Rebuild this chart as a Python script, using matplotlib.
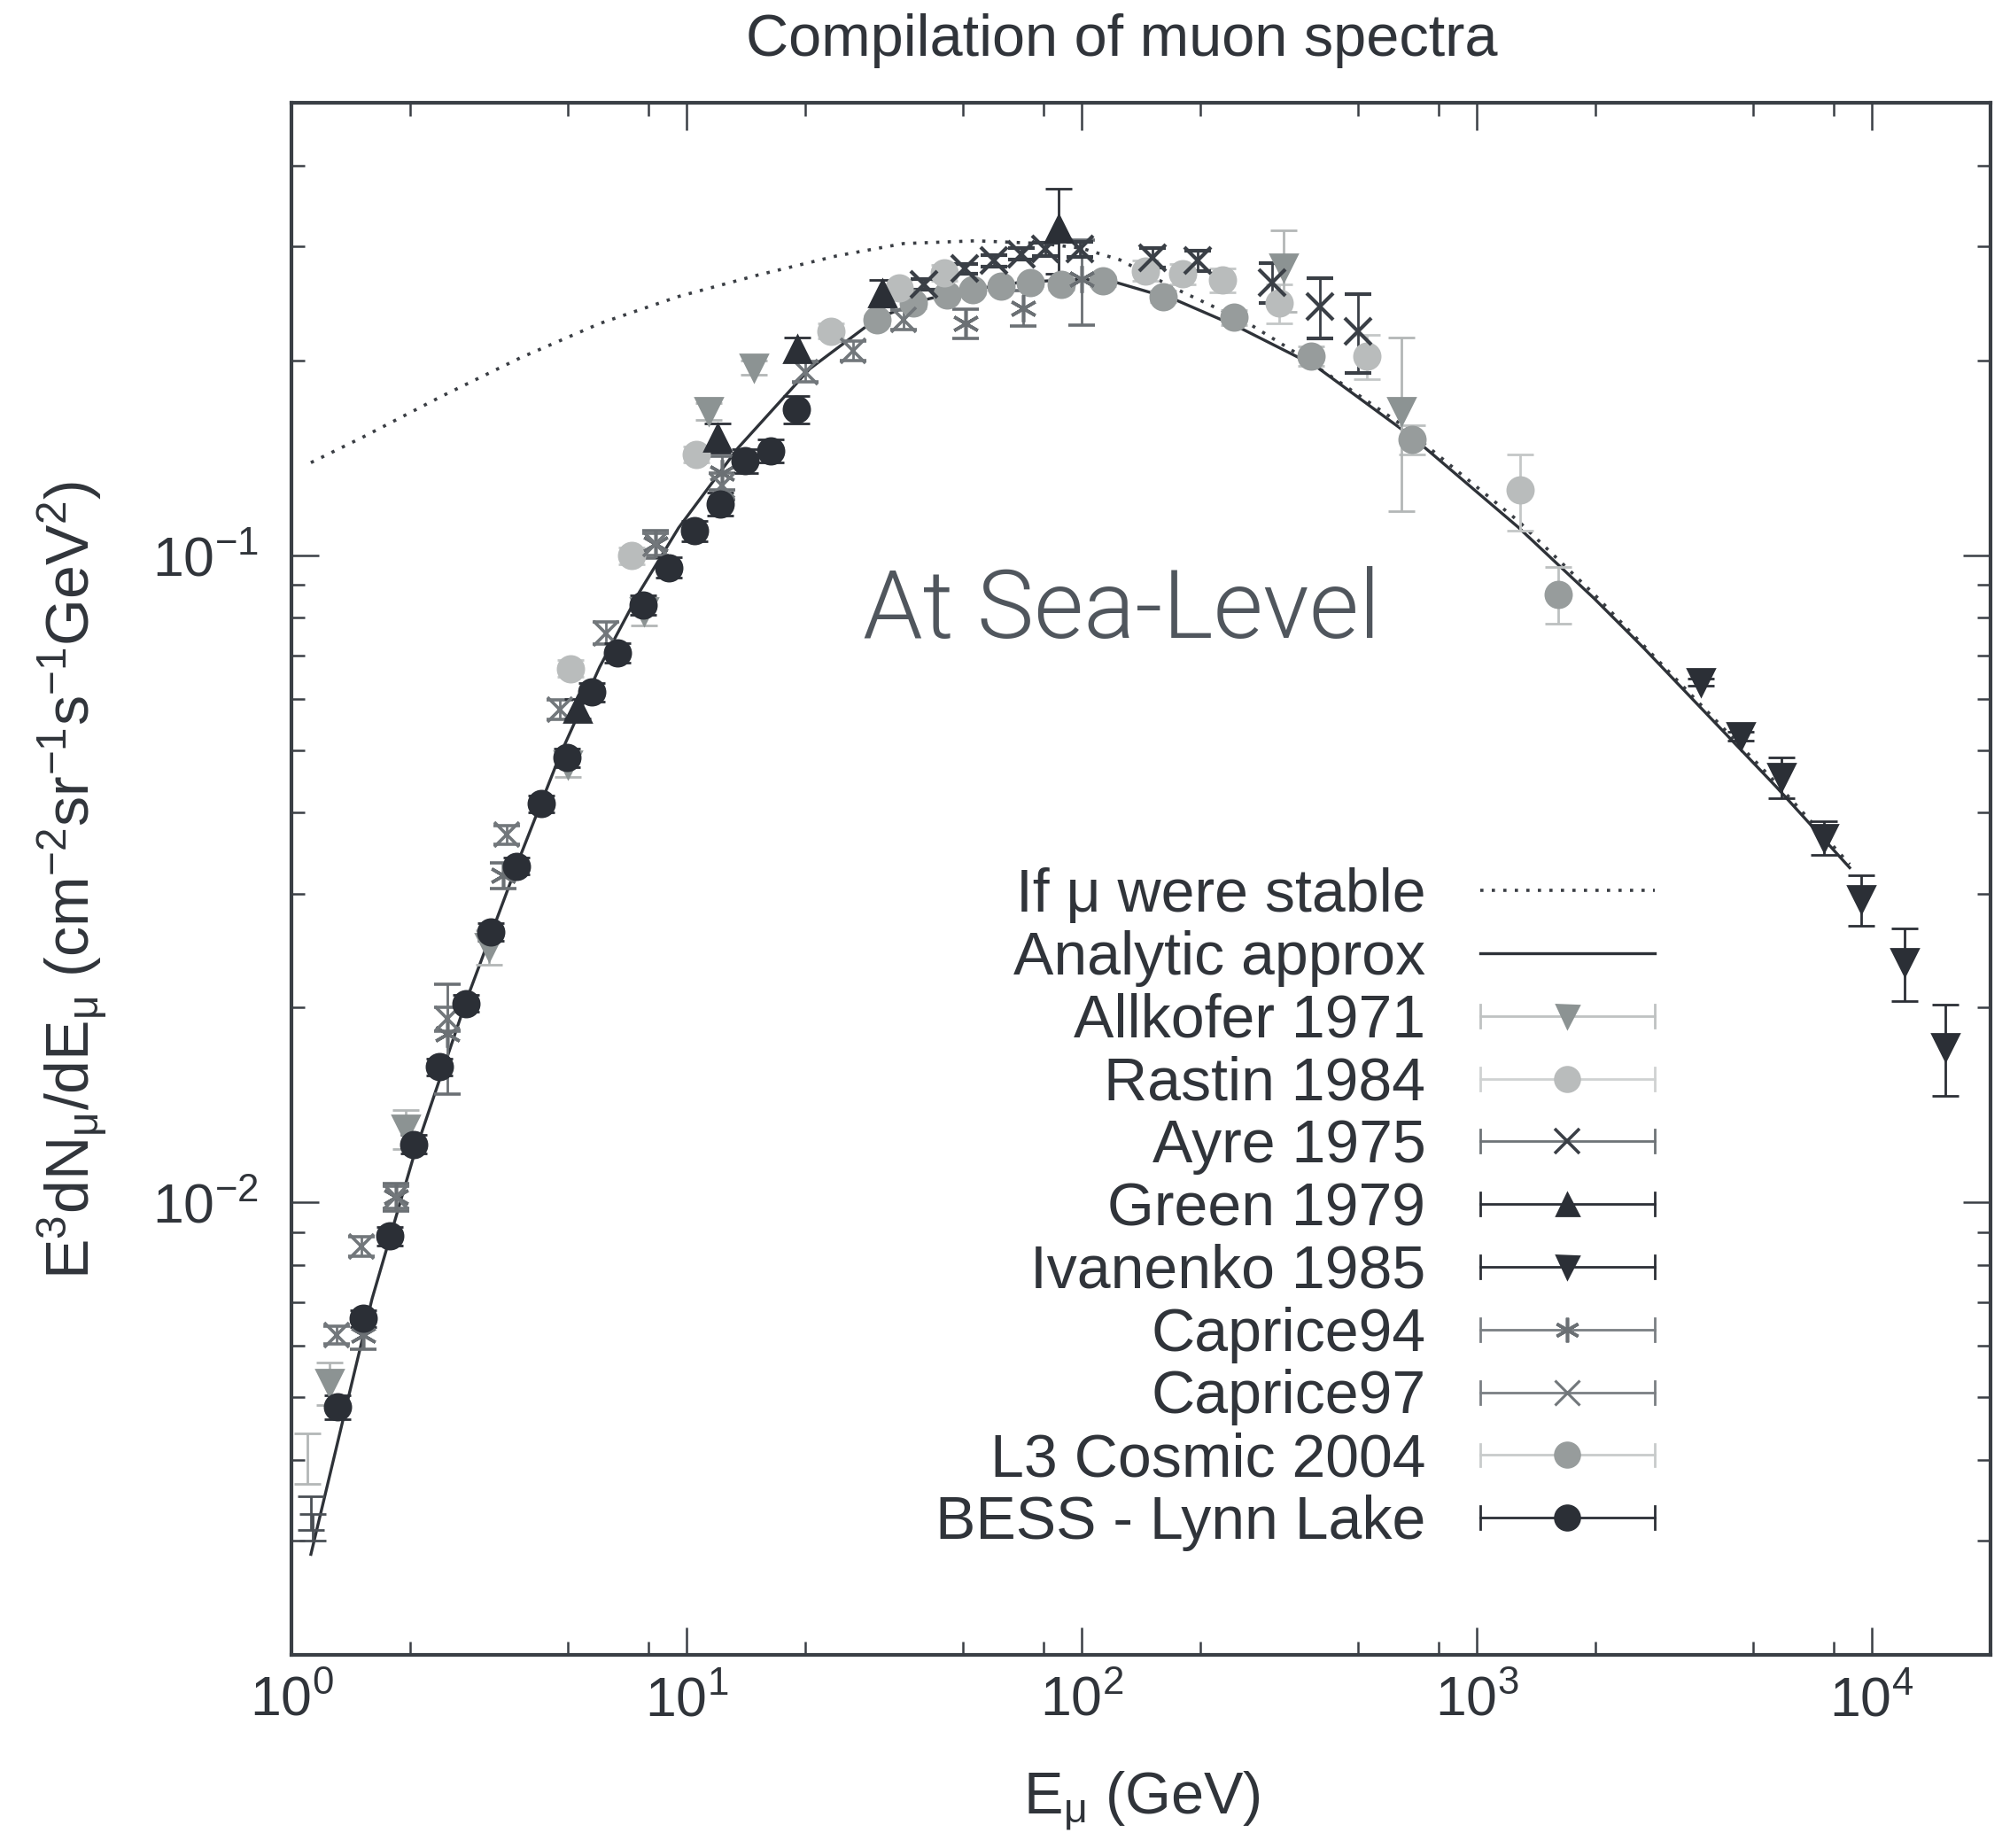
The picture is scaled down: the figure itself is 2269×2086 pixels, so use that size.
import matplotlib
matplotlib.use("Agg")
import matplotlib.pyplot as plt
from matplotlib.ticker import FixedLocator, FixedFormatter, NullFormatter, LogLocator
from matplotlib.legend_handler import HandlerBase
from matplotlib.lines import Line2D

plt.rcParams['font.family'] = ['Liberation Sans', 'DejaVu Sans']
plt.rcParams['mathtext.default'] = 'regular'

# ---------------- data ----------------
stable_E = [1.12, 1.51, 2.40, 3.81, 6.03, 9.55, 15.2, 24, 35.4, 54, 80, 100, 125, 173, 262, 342, 445, 628, 1274, 1986, 5730, 8800]
stable_V = [0.139, 0.152, 0.176, 0.202, 0.228, 0.251, 0.271, 0.290, 0.303, 0.306, 0.303, 0.298, 0.286, 0.258, 0.229, 0.207, 0.186, 0.161, 0.113, 0.0870, 0.0445, 0.0333]

analytic_E = [1.12, 1.35, 1.60, 2.04, 2.77, 3.81, 4.79, 6.03, 7.60, 9.55, 13.5, 20.5, 30.3, 40, 50, 70, 100, 122, 173, 250, 391, 690, 1274, 1986, 2654, 5730, 8800]
analytic_V = [0.00286, 0.00461, 0.0071, 0.0118, 0.0205, 0.0345, 0.0492, 0.0672, 0.0877, 0.1102, 0.1464, 0.194, 0.232, 0.248, 0.256, 0.264, 0.267, 0.264, 0.248, 0.225, 0.196, 0.152, 0.1105, 0.0857, 0.0718, 0.0439, 0.0329]

allkofer_E = [1.25, 1.95, 3.16, 5.0, 7.8, 11.4, 14.8, 324, 645]
allkofer_V = [0.00526, 0.0130, 0.0248, 0.0475, 0.082, 0.167, 0.195, 0.278, 0.167]
allkofer_err = [0.0004, 0.0009, 0.0015, 0.002, 0.004, 0.005, 0.005, 0.040, 0.050]

rastin_E = [5.08, 7.26, 10.6, 23.2, 34.5, 44.9, 145, 180, 228, 316, 527, 1288]
rastin_V = [0.0668, 0.0998, 0.143, 0.222, 0.259, 0.273, 0.275, 0.272, 0.266, 0.245, 0.203, 0.126]
rastin_err = [0.002, 0.003, 0.004, 0.006, 0.007, 0.008, 0.010, 0.010, 0.011, 0.017, 0.016, 0.017]

ayre_E = [39.9, 50.6, 60, 70.4, 81, 99, 151, 197, 303, 401, 501]
ayre_V = [0.262, 0.277, 0.285, 0.292, 0.297, 0.297, 0.288, 0.285, 0.264, 0.242, 0.222]
ayre_err = [0.005, 0.005, 0.006, 0.006, 0.007, 0.008, 0.010, 0.010, 0.019, 0.026, 0.031]

green_E = [5.3, 12.0, 19.1, 31.3, 87.5]
green_V = [0.058, 0.152, 0.208, 0.254, 0.320]
green_err = [0.002, 0.008, 0.009, 0.012, 0.048]

ivanenko_E = [3690, 4660, 5910, 7570, 9400, 12100, 15350]
ivanenko_V = [0.0636, 0.0525, 0.0454, 0.0366, 0.0294, 0.0235, 0.0174]
ivanenko_err = [0.0008, 0.0008, 0.0033, 0.0022, 0.0026, 0.0030, 0.0028]

caprice94_E = [1.52, 1.84, 2.48, 3.43, 8.35, 12.3, 51, 71, 100]
caprice94_V = [0.00624, 0.0102, 0.0182, 0.032, 0.104, 0.134, 0.228, 0.241, 0.267]
caprice94_err = [0.0003, 0.0005, 0.0035, 0.0015, 0.005, 0.008, 0.012, 0.015, 0.040]

caprice97_E = [1.30, 1.50, 1.84, 2.48, 3.51, 4.79, 6.25, 8.35, 12.3, 20.0, 26.4, 35.4]
caprice97_V = [0.00624, 0.00855, 0.0102, 0.0192, 0.037, 0.0577, 0.0758, 0.104, 0.128, 0.192, 0.207, 0.231]
caprice97_err = [0.0002, 0.0003, 0.0004, 0.0008, 0.0012, 0.002, 0.003, 0.004, 0.006, 0.007, 0.007, 0.008]

l3_E = [30.3, 37.5, 45.6, 53, 62.5, 74, 89, 113, 161, 243, 381, 686, 1607]
l3_V = [0.231, 0.245, 0.252, 0.257, 0.260, 0.264, 0.262, 0.265, 0.251, 0.233, 0.203, 0.151, 0.0871]
l3_err = [0.004, 0.004, 0.004, 0.004, 0.004, 0.004, 0.005, 0.005, 0.005, 0.006, 0.007, 0.008, 0.0088]

bess_E = [1.31, 1.52, 1.77, 2.04, 2.37, 2.77, 3.19, 3.71, 4.28, 4.97, 5.75, 6.68, 7.76, 9.0, 10.5, 12.2, 14.1, 16.3, 19.0]
bess_V = [0.00483, 0.00662, 0.00887, 0.0123, 0.0162, 0.0203, 0.0262, 0.0331, 0.0413, 0.0487, 0.0614, 0.0707, 0.0838, 0.0957, 0.109, 0.120, 0.140, 0.145, 0.168]
bess_err = [0.0002, 0.0002, 0.0003, 0.0004, 0.0005, 0.0006, 0.0008, 0.001, 0.0012, 0.0016, 0.002, 0.0025, 0.003, 0.0035, 0.004, 0.005, 0.006, 0.006, 0.008]

# error bars at the left edge whose markers are not visible
edge_light_E = [1.10]
edge_light_V = [0.00404]
edge_light_err = [0.00036]
edge_dark_E = [1.12, 1.13]
edge_dark_V = [0.00332, 0.00315]
edge_dark_err = [0.0002, 0.00015]

x_major = [1, 10, 100, 1000, 10000]
x_major_labels = ['$10^{0}$', '$10^{1}$', '$10^{2}$', '$10^{3}$', '$10^{4}$']
x_minor = [m * 10 ** k for k in range(0, 5) for m in (2, 5, 8)]
y_major = [0.01, 0.1]
y_major_labels = ['$10^{-2}$', '$10^{-1}$']

legend_labels = ['If μ were stable', 'Analytic approx', 'Allkofer 1971', 'Rastin 1984',
                 'Ayre 1975', 'Green 1979', 'Ivanenko 1985', 'Caprice94', 'Caprice97',
                 'L3 Cosmic 2004', 'BESS - Lynn Lake']

# ---------------- styles ----------------
TXT = '#30343a'
AXC = '#3a3f45'
BLACK = '#2b2f36'
W, H = 2269, 2086

fig = plt.figure(figsize=(W / 100, H / 100), dpi=100)
ax = fig.add_axes([329 / W, (H - 1868) / H, (2247 - 329) / W, (1868 - 116) / H])
ax.set_xscale('log')
ax.set_yscale('log')

ax.plot(stable_E, stable_V, linestyle=(0, (1, 2.6)), lw=2.6, color='#3a3e44', zorder=2)
ax.plot(analytic_E, analytic_V, linestyle='-', lw=2.4, color='#2e3238', zorder=2)

CS = 11
def eb(x, y, e, marker, mc, ec, ms=21, mew=2.0, z=3):
    ax.errorbar(x, y, yerr=e, fmt='', marker=marker, linestyle='none', ms=ms, color=mc,
                mfc=mc, mec=mc, mew=mew, ecolor=ec, elinewidth=2.0, capsize=CS,
                capthick=2.0, zorder=z)

eb(edge_light_E, edge_light_V, edge_light_err, 'None', '#b3b7b7', '#b3b7b7')
eb(edge_dark_E, edge_dark_V, edge_dark_err, 'None', BLACK, '#4a4f55')
eb(l3_E, l3_V, l3_err, 'o', '#979c9c', '#bcc0c0')
eb(rastin_E, rastin_V, rastin_err, 'o', '#b9bcbc', '#c4c7c7')
eb(allkofer_E, allkofer_V, allkofer_err, 'v', '#8c9393', '#b3b7b7')
eb(caprice94_E, caprice94_V, caprice94_err, (6, 2, 0), '#6b7074', '#6b7074', ms=22, mew=2.6)
eb(caprice97_E, caprice97_V, caprice97_err, 'x', '#72777b', '#72777b', ms=20, mew=2.6)
eb(ayre_E, ayre_V, ayre_err, 'x', '#3a3f46', '#3a3f46', ms=22, mew=3.0)
eb(green_E, green_V, green_err, '^', BLACK, BLACK)
eb(ivanenko_E, ivanenko_V, ivanenko_err, 'v', BLACK, BLACK)
eb(bess_E, bess_V, bess_err, 'o', BLACK, BLACK)

ax.set_xlim(1, 2e4)
ax.set_ylim(0.002, 0.5)
ax.xaxis.set_major_locator(FixedLocator(x_major))
ax.xaxis.set_major_formatter(FixedFormatter(x_major_labels))
ax.xaxis.set_minor_locator(FixedLocator(x_minor))
ax.xaxis.set_minor_formatter(NullFormatter())
ax.yaxis.set_major_locator(FixedLocator(y_major))
ax.yaxis.set_major_formatter(FixedFormatter(y_major_labels))
ax.yaxis.set_minor_locator(LogLocator(base=10, subs=range(2, 10)))
ax.yaxis.set_minor_formatter(NullFormatter())

ax.tick_params(which='both', direction='in', top=True, right=True, color=AXC, width=1.8,
               labelcolor=TXT, labelsize=45)
ax.tick_params(which='major', length=22)
ax.tick_params(which='minor', length=11)
ax.tick_params(axis='x', which='major', pad=16)
ax.tick_params(axis='y', which='major', pad=27)
for s in ax.spines.values():
    s.set_linewidth(3.0)
    s.set_color(AXC)

fig.text(1266 / W, 1 - 63 / H, 'Compilation of muon spectra', fontsize=48, color=TXT,
         ha='center', va='baseline')
fig.text(1289 / W, 1 - 2047 / H, 'E$_{μ}$ (GeV)', fontsize=48, color=TXT,
         ha='center', va='baseline')
fig.text(82 / W, 1 - 993 / H,
         'E$^{3}$dN$_{μ}$/dE$_{μ}$ (cm$^{-2}$sr$^{-1}$s$^{-1}$GeV$^{2}$)',
         fontsize=49, color=TXT, rotation=90, ha='center', va='center')
fig.text(974 / W, 1 - 720 / H, 'At Sea-Level', fontsize=78, color='#50565d',
         family=['Roboto', 'Lato', 'DejaVu Sans'], fontweight=300, ha='left', va='baseline')

# ---------------- legend ----------------
class ErrHandle(HandlerBase):
    def __init__(self, marker, mcolor, lcolor, ms, mew=2.0):
        super().__init__()
        self.marker, self.mcolor, self.lcolor, self.ms, self.mew = marker, mcolor, lcolor, ms, mew

    def create_artists(self, legend, orig_handle, xdescent, ydescent, width, height, fontsize, trans):
        y = (height - ydescent) / 2.0
        x0, x1 = -xdescent, width - xdescent
        ch = 0.19 * fontsize
        arts = [Line2D([x0, x1], [y, y], color=self.lcolor, lw=2.0),
                Line2D([x0, x0], [y - ch, y + ch], color=self.lcolor, lw=2.0),
                Line2D([x1, x1], [y - ch, y + ch], color=self.lcolor, lw=2.0),
                Line2D([(x0 + x1) / 2.0], [y], marker=self.marker, ms=self.ms, color=self.mcolor,
                       mec=self.mcolor, mew=self.mew, linestyle='none')]
        for a in arts:
            a.set_transform(trans)
        return arts

h_stable = Line2D([], [], linestyle=(0, (1, 2.6)), lw=2.6, color='#3a3e44')
h_analytic = Line2D([], [], linestyle='-', lw=2.4, color='#2e3238')
specs = [('v', '#8c9393', '#bfc2c2', 18, 2.0),
         ('o', '#b9bcbc', '#cfd2d2', 20, 2.0),
         ('x', '#3a3f46', '#6e7377', 20, 2.6),
         ('^', BLACK, BLACK, 18, 2.0),
         ('v', BLACK, BLACK, 18, 2.0),
         ((6, 2, 0), '#6b7074', '#7a7f83', 20, 2.6),
         ('x', '#72777b', '#7a7f83', 20, 2.2),
         ('o', '#979c9c', '#c8cbcb', 20, 2.0),
         ('o', BLACK, BLACK, 20, 2.0)]
proxies = []
hmap = {}
for sp in specs:
    p = Line2D([], [])
    proxies.append(p)
    hmap[p] = ErrHandle(*sp)

leg = ax.legend([h_stable, h_analytic] + proxies, legend_labels, handler_map=hmap,
                loc='upper right', bbox_to_anchor=(1868 / W, 1 - 979 / H),
                bbox_transform=fig.transFigure, frameon=False, markerfirst=False,
                fontsize=49, handlelength=2.9, handletextpad=0.9, labelspacing=0.1,
                borderpad=0, borderaxespad=0, handleheight=0.7, labelcolor=TXT)

fig.savefig('out.png', dpi=100)
